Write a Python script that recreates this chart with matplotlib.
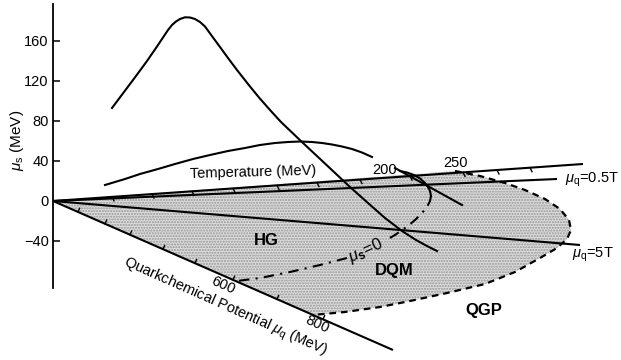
import matplotlib
matplotlib.use("Agg")
import matplotlib.pyplot as plt
import numpy as np

plt.rcParams['font.family'] = ['Liberation Sans', 'DejaVu Sans']
plt.rcParams['mathtext.fontset'] = 'custom'
plt.rcParams['mathtext.rm'] = 'Liberation Sans'
plt.rcParams['mathtext.it'] = 'Liberation Sans:italic'
plt.rcParams['mathtext.bf'] = 'Liberation Sans:bold'

# ---- data (horizontal: projected position, vertical: mu_s in MeV) ----
origin = (53, 0)
ms_ticks = [-40, 0, 40, 80, 120, 160]

# projected axes / reference lines (end points)
temp_axis = ([53, 583], [0, 37])
line_05T = ([53, 557], [0, 22])
line_5T = ([53, 580], [0, -44])
muq_axis = ([53, 393], [0, -149])

temp_tick_x = [112, 152, 192, 233, 277, 317, 360, 410, 463, 497, 530]
muq_tick_x = [78, 105, 130, 163, 195, 233, 277, 323]

# upper (peaked) mu_s curve
peak_x = [112, 124, 136, 147, 156, 163, 168, 172, 176, 180, 185,
          190, 195, 200, 205, 209, 213, 220, 228, 237, 248, 259, 270, 281, 292, 303,
          318, 334, 350, 368, 385, 402, 416, 427, 437]
peak_ms = [93, 109, 125, 140, 153, 163.5, 171, 176, 179.5, 182, 183.7,
           183.5, 182, 179, 174.5, 169, 163.5, 154, 143, 131, 117, 103.5, 91, 79, 68.5, 58,
           44, 29, 14, -2, -17, -30, -39, -45, -50]

# temperature arch curve
arch_x = [105, 125, 140, 158, 175, 193, 210, 228, 245, 260, 275, 288, 300, 312, 322, 332, 342, 352, 362, 372]
arch_ms = [16, 22, 27, 32, 37, 42, 46, 50, 53, 56, 58, 59, 59.5, 59, 58, 56.5, 54.5, 52, 48.5, 44]

# short line from the 200 MeV mark
short_x = [395, 462]
short_ms = [33, -4]

# mu_s = 0 curve (solid upper part, dash-dot lower parts)
ms0_solid_x = [400, 407, 414, 420, 425, 428, 430, 431]
ms0_solid_ms = [30, 28.5, 26, 22.5, 18, 14, 10, 5]
ms0_dd1_x = [431, 430, 427, 422, 415, 408, 402, 395, 388]
ms0_dd1_ms = [5, 0, -6, -12, -19, -25, -29, -34, -38]
ms0_dd2_x = [347, 320, 290, 260, 237]
ms0_dd2_ms = [-57, -64, -71, -77, -80]

# phase boundary (dashed)
bound_x = [455, 480, 505, 525, 545, 560, 569, 571, 567, 557, 540, 515, 485, 447, 410, 380, 345, 313]
bound_ms = [30, 25, 18, 11, 2, -8, -19, -29, -38, -47, -57, -71, -83, -92, -100, -106, -111, -114]

fig = plt.figure(figsize=(6.21, 3.60), dpi=100)
ax = fig.add_axes([0, 0, 1, 1])
ax.set_xlim(0, 621)
ax.set_ylim(-159, 201)

# shaded region
poly_x = [origin[0]] + [455] + bound_x + [origin[0]]
poly_y = [origin[1]] + [30] + bound_ms + [origin[1]]
ax.fill(poly_x, poly_y, facecolor='#dcdcdc', edgecolor='#959595', hatch='......', linewidth=0, zorder=1)

lw = 1.5
for (xs, ys) in [temp_axis, line_05T, line_5T, muq_axis]:
    ax.plot(xs, ys, color='black', lw=lw, zorder=3, solid_capstyle='butt')

# ticks on temperature axis
tx0, tx1 = temp_axis[0]
ty0, ty1 = temp_axis[1]
for x in temp_tick_x:
    y = ty0 + (ty1 - ty0) * (x - tx0) / (tx1 - tx0)
    ax.plot([x, x + 2], [y, y - 4], color='black', lw=1.0, zorder=3)

# ticks on mu_q axis
qx0, qx1 = muq_axis[0]
qy0, qy1 = muq_axis[1]
ang = np.arctan2(qy1 - qy0, qx1 - qx0)
nx, ny = -np.sin(ang), np.cos(ang)
for x in muq_tick_x:
    y = qy0 + (qy1 - qy0) * (x - qx0) / (qx1 - qx0)
    ax.plot([x, x + 4 * nx], [y, y + 4 * ny], color='black', lw=1.0, zorder=3)

ax.plot(peak_x, peak_ms, color='black', lw=lw, zorder=4, solid_joinstyle='round')
ax.plot(arch_x, arch_ms, color='black', lw=lw, zorder=4, solid_joinstyle='round')
ax.plot(short_x, short_ms, color='black', lw=lw, zorder=4)
ax.plot(ms0_solid_x, ms0_solid_ms, color='black', lw=lw, zorder=4)
ax.plot(ms0_dd1_x, ms0_dd1_ms, color='black', lw=lw, zorder=4, linestyle=(0, (5, 3, 1, 3)))
ax.plot(ms0_dd2_x, ms0_dd2_ms, color='black', lw=lw, zorder=4, linestyle=(0, (5, 3, 1, 3)))
ax.plot(bound_x, bound_ms, color='black', lw=1.6, zorder=4, linestyle=(0, (3, 2.2)))

# left axis
for s in ['top', 'right', 'bottom']:
    ax.spines[s].set_visible(False)
ax.spines['left'].set_position(('data', 53))
ax.spines['left'].set_bounds(-87, 197)
ax.spines['left'].set_linewidth(1.3)
ax.set_yticks(ms_ticks)
ax.set_yticklabels([str(t).replace('-', '\u2212') for t in ms_ticks])
ax.tick_params(axis='y', direction='in', length=5, width=1.1, labelsize=10.5, pad=3)
ax.set_xticks([])

ax.text(17, 61, r'$\mu_\mathrm{s}$ (MeV)', rotation=90, ha='center', va='center', fontsize=11)

ax.text(253, 29, 'Temperature (MeV)', ha='center', va='center', fontsize=10.5, rotation=1.5)
ax.text(385, 31, '200', ha='center', va='center', fontsize=10.5)
ax.text(456, 38, '250', ha='center', va='center', fontsize=10.5)
ax.text(565, 21, r'$\mu_\mathrm{q}$=0.5T', ha='left', va='center', fontsize=10.5)
ax.text(572, -54, r'$\mu_\mathrm{q}$=5T', ha='left', va='center', fontsize=10.5)
ax.text(266, -40, 'HG', ha='center', va='center', fontsize=12, fontweight='bold')
ax.text(394, -69, 'DQM', ha='center', va='center', fontsize=12, fontweight='bold')
ax.text(484, -109, 'QGP', ha='center', va='center', fontsize=12, fontweight='bold')
ax.text(366, -50, r'$\mu_\mathbf{s}$=0', ha='center', va='center', fontsize=12, rotation=25)
ax.text(223, -84, '600', ha='center', va='center', fontsize=10.5, rotation=-24)
ax.text(317, -123, '800', ha='center', va='center', fontsize=10.5, rotation=-24)
ax.text(225, -106, r'Quarkchemical Potential $\mu_\mathrm{q}$ (MeV)', ha='center', va='center',
        fontsize=10.5, rotation=-24)

fig.savefig('out.png', dpi=100)
